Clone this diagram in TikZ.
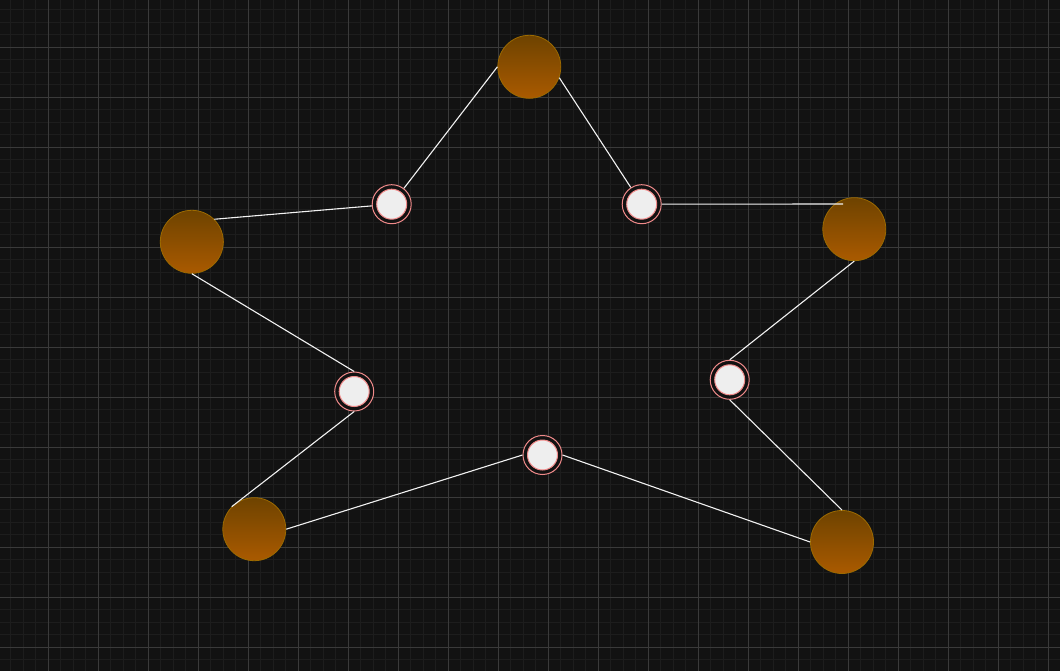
\documentclass[tikz,border=0pt]{standalone}
\usetikzlibrary{calc}
\definecolor{bgc}{HTML}{121212}
\definecolor{minorc}{HTML}{1D1D1D}
\definecolor{majorc}{HTML}{3A3A3A}
\definecolor{orgtop}{HTML}{6E4300}
\definecolor{orgbot}{HTML}{AA5A00}
\definecolor{orgedge}{HTML}{9C6A00}
\definecolor{pinkc}{HTML}{F08A8A}
\definecolor{dotc}{HTML}{EEEEEE}
\definecolor{linec}{HTML}{F2F2F2}
\tikzset{
  bignode/.style={circle, minimum size=63, inner sep=0, draw=orgedge, line width=0.8,
    top color=orgtop, bottom color=orgbot},
  smallnode/.style={circle, minimum size=39, inner sep=0, draw=pinkc, line width=1, fill=bgc,
    path picture={\draw[pinkc, line width=1, fill=dotc] (path picture bounding box.center) circle (15);}},
  link/.style={draw=linec, line width=1.1}
}
\begin{document}
\begin{tikzpicture}[x=1pt,y=-1pt]
\fill[bgc] (0,0) rectangle (1060,671);
\useasboundingbox (0,0) rectangle (1060,671);
\foreach \i in {0,...,85} {
  \draw[minorc, line width=1] ({-1.7+12.5*\i},0) -- ({-1.7+12.5*\i},671);
}
\foreach \i in {0,...,54} {
  \draw[minorc, line width=1] (0,{-2.7+12.5*\i}) -- (1060,{-2.7+12.5*\i});
}
\foreach \i in {0,...,21} {
  \draw[majorc, line width=1] ({48.3+50*\i},0) -- ({48.3+50*\i},671);
}
\foreach \i in {0,...,12} {
  \draw[majorc, line width=1] (0,{47.3+50*\i}) -- (1060,{47.3+50*\i});
}
% big nodes
\node[bignode] (O1) at (529.3,66.8) {};
\node[bignode] (O2) at (191.8,241.8) {};
\node[bignode] (O3) at (854.3,229.2) {};
\node[bignode] (O4) at (254.3,529.2) {};
\node[bignode] (O5) at (842,542) {};
% small nodes
\node[smallnode] (s1) at (391.7,204.2) {};
\node[smallnode] (s2) at (641.7,204.2) {};
\node[smallnode] (s3) at (354.2,391.5) {};
\node[smallnode] (s4) at (729.7,379.8) {};
\node[smallnode] (s5) at (542.5,455) {};
\coordinate (O3in) at ($(O3.center)+(-11.3,-25.2)$);
% links
\draw[link] (O1.west) -- (s1);
\draw[link] (O1.-20) -- (s2);
\draw[link] (s2) -- (O3in);
\draw[link] (O3.south) -- (s4.north);
\draw[link] (s4.south) -- (O5.north);
\draw[link] (O5.west) -- (s5.east);
\draw[link] (s5.west) -- (O4.east);
\draw[link] (O4.north west) -- (s3.south);
\draw[link] (s3.north) -- (O2.south);
\draw[link] (O2.north east) -- (s1);
\end{tikzpicture}
\end{document}
